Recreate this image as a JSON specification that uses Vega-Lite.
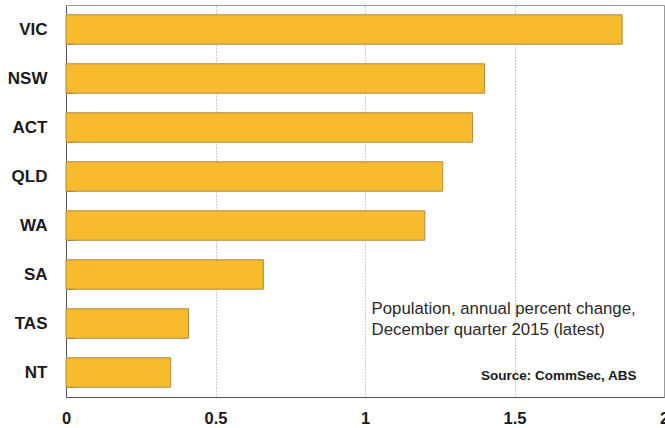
{
  "$schema": "https://vega.github.io/schema/vega-lite/v6.json",
  "width": 598,
  "height": 392,
  "autosize": "none",
  "padding": {"left": 66, "top": 5, "right": 1, "bottom": 31},
  "background": "#ffffff",
  "config": {
    "view": {"stroke": "#9a9a9a", "strokeWidth": 1},
    "font": "Liberation Sans"
  },
  "datasets": {
    "states": [
      {"state": "VIC", "change": 1.86},
      {"state": "NSW", "change": 1.4},
      {"state": "ACT", "change": 1.36},
      {"state": "QLD", "change": 1.26},
      {"state": "WA", "change": 1.2},
      {"state": "SA", "change": 0.66},
      {"state": "TAS", "change": 0.41},
      {"state": "NT", "change": 0.35}
    ],
    "notes": [
      {"state": "TAS", "x": 1.022, "label": ["Population, annual percent change,", "December quarter 2015 (latest)"]}
    ],
    "source": [
      {"state": "NT", "x": 1.908, "label": "Source: CommSec, ABS"}
    ]
  },
  "layer": [
    {
      "data": {"name": "states"},
      "mark": {"type": "bar", "color": "#f8bb2d", "stroke": "#a98a45", "strokeWidth": 1},
      "encoding": {
        "y": {
          "field": "state",
          "type": "nominal",
          "scale": {
            "domain": ["VIC", "NSW", "ACT", "QLD", "WA", "SA", "TAS", "NT"],
            "paddingInner": 0.4,
            "paddingOuter": 0.2
          },
          "axis": {
            "title": null,
            "domainColor": "#555555",
            "tickColor": "#7a7a7a",
            "tickSize": -8,
            "tickBand": "extent",
            "labelFont": "Liberation Sans",
            "labelFontWeight": "bold",
            "labelFontSize": 17,
            "labelColor": "#1a1a1a",
            "labelPadding": 27
          }
        },
        "x": {
          "field": "change",
          "type": "quantitative",
          "scale": {"domain": [0, 2], "nice": false},
          "axis": {
            "title": null,
            "values": [0, 0.5, 1, 1.5, 2],
            "format": "~g",
            "grid": true,
            "gridColor": "#9a9a9a",
            "gridDash": [1, 2],
            "ticks": false,
            "domainColor": "#555555",
            "labelFont": "Liberation Sans",
            "labelFontWeight": "bold",
            "labelFontSize": 16.5,
            "labelColor": "#1a1a1a",
            "labelPadding": 13,
            "labelFlush": false
          }
        }
      }
    },
    {
      "data": {"name": "notes"},
      "mark": {"type": "text", "align": "left", "baseline": "middle", "fontSize": 16.8, "lineHeight": 21, "dy": -14.5, "color": "#2a2a2a", "font": "Liberation Sans"},
      "encoding": {
        "x": {"field": "x", "type": "quantitative"},
        "y": {"field": "state", "type": "nominal"},
        "text": {"field": "label"}
      }
    },
    {
      "data": {"name": "source"},
      "mark": {"type": "text", "align": "right", "baseline": "middle", "fontSize": 13.5, "fontWeight": "bold", "dy": 3.5, "color": "#1a1a1a", "font": "Liberation Sans"},
      "encoding": {
        "x": {"field": "x", "type": "quantitative"},
        "y": {"field": "state", "type": "nominal"},
        "text": {"field": "label"}
      }
    }
  ]
}
